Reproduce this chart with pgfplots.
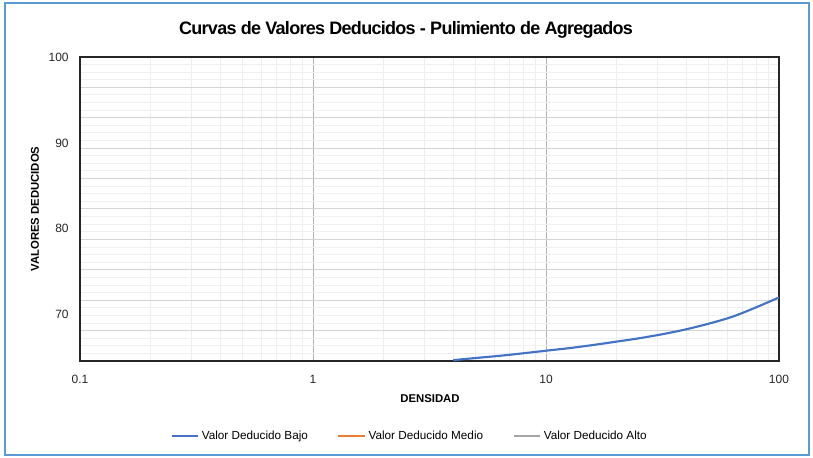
\documentclass[border=0pt]{standalone}
\usepackage{fontspec}
\setmainfont{Liberation Sans}
\usepackage{pgfplots}
\pgfplotsset{compat=1.18}

\definecolor{bajo}{HTML}{4472C4}
\definecolor{medio}{HTML}{ED7D31}
\definecolor{alto}{HTML}{A5A5A5}
\definecolor{marco}{HTML}{5B9BD5}

\begin{document}
\begin{tikzpicture}
% fix page size: 813x457 px at 0.75pt/px, axis origin at px (80,361)
\path[use as bounding box] (-60pt,-72pt) rectangle (549.75pt,270.75pt);
\draw[marco, line width=1.5pt] (-56.25pt,-70.5pt) rectangle (546.75pt,268.5pt);

\begin{axis}[
  at={(0pt,0pt)}, anchor=south west,
  scale only axis, width=524.25pt, height=228pt,
  xmode=log, log basis x=10,
  xmin=0.1, xmax=100, ymin=64.6, ymax=100,
  xtick={0.1,1,10,100}, xticklabels={0.1,1,10,100},
  minor xtick={0.2,0.3,0.4,0.5,0.6,0.7,0.8,0.9,2,3,4,5,6,7,8,9,20,30,40,50,60,70,80,90},
  % Excel-style gridlines: 10 major intervals, 4 minor each; labels as extra ticks
  ytick={68.14,71.68,75.22,78.76,82.30,85.84,89.38,92.92,96.46},
  yticklabels={},
  minor ytick={65.485,66.37,67.255,69.025,69.91,70.795,72.565,73.45,74.335,
    76.105,76.99,77.875,79.645,80.53,81.415,83.185,84.07,84.955,86.725,87.61,
    88.495,90.265,91.15,92.035,93.805,94.69,95.575,97.345,98.23,99.115},
  extra y ticks={70,80,90,100},
  extra y tick labels={70,80,90,100},
  extra y tick style={grid=none},
  grid=both,
  major x grid style={black!30, line width=0.75pt},
  major y grid style={black!17, line width=0.75pt},
  minor x grid style={black!7, line width=0.75pt},
  minor y grid style={black!6, line width=0.75pt},
  axis line style={black!85, line width=0.8pt},
  major tick length=0pt, minor tick length=0pt,
  tick label style={font=\fontsize{9}{10}\selectfont, text=black!85},
  /pgf/number format/assume math mode=true,
  xticklabel style={yshift=-7pt},
  yticklabel style={xshift=-5pt},
  legend style={draw=none, fill=none, font=\fontsize{8.8}{10}\selectfont,
    legend columns=3, at={(0.472,-0.247)}, anchor=center,
    /tikz/every even column/.append style={column sep=20pt}},
  legend cell align=left,
  legend image code/.code={\draw[#1, line width=1.5pt] (0pt,0pt) -- (20pt,0pt);},
]
\addplot[bajo, line width=1.6pt, smooth] coordinates {
  (4,64.7) (5,64.95) (6.3,65.2) (8,65.5) (10,65.8) (12.6,66.1) (15.8,66.45)
  (20,66.85) (25,67.24) (31.6,67.72) (39.8,68.28) (50,68.95) (63,69.75)
  (79,70.8) (100,72.0)
};
\addlegendentry{Valor Deducido Bajo}
\addlegendimage{medio}
\addlegendentry{Valor Deducido Medio}
\addlegendimage{alto}
\addlegendentry{Valor Deducido Alto}
\end{axis}

\node[font=\fontsize{13.5}{15}\bfseries, inner sep=0pt] at (244.5pt,248.5pt)
  {\addfontfeatures{LetterSpace=-4}Curvas de Valores Deducidos - Pulimiento de Agregados};
\node[font=\fontsize{8.5}{10}\bfseries, rotate=90, inner sep=0pt] at (-33.75pt,114pt)
  {VALORES DEDUCIDOS};
\node[font=\fontsize{8.5}{10}\bfseries, inner sep=0pt] at (262.5pt,-28.5pt)
  {DENSIDAD};
\end{tikzpicture}
\end{document}
